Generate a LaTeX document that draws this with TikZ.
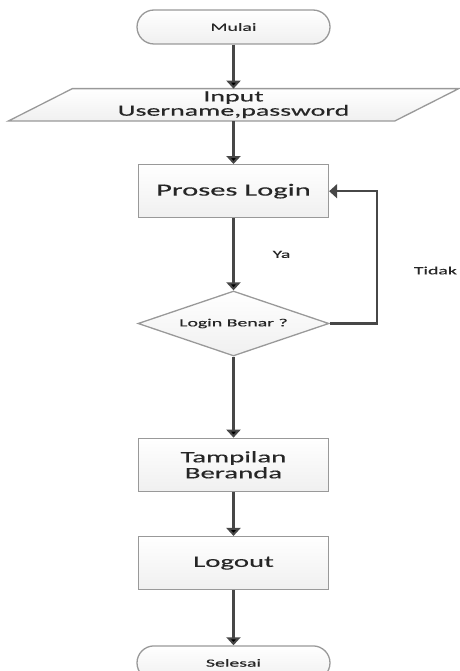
\documentclass[tikz,border=0pt]{standalone}
\usepackage{fontspec}
\setmainfont{Carlito}[FakeStretch=1.8,FakeBold=0.4]
\usepackage{tikz}
\usetikzlibrary{shapes.geometric,arrows.meta,calc,backgrounds}
\usetikzlibrary{positioning}

\begin{document}
\begin{tikzpicture}[x=1pt,y=1pt,
    box/.style={draw=gray!80,line width=1.3pt,top color=white,bottom color=gray!12,
      text=black!85,align=center,minimum width=190pt,minimum height=53pt,
      font=\fontsize{16}{16}\selectfont},
    term/.style={box,rounded corners=17pt,minimum width=193pt,minimum height=34pt,
      font=\fontsize{11}{11}\selectfont},
    decision/.style={box,diamond,aspect=2.94,minimum width=191pt,minimum height=65pt,
      inner sep=0pt,font=\fontsize{11}{11}\selectfont},
    lbl/.style={text=black!85,inner sep=0pt,font=\fontsize{11}{11}\selectfont},
    flow/.style={draw=black!72,line width=2.2pt,-{Triangle[width=14pt,length=8pt]}}]
 \useasboundingbox (0,0) rectangle (459,-671);
 \node[term] (mulai) at (233.5,-27) {Mulai};
 \node[below=44pt of mulai,minimum width=322pt,minimum height=32pt,inner sep=0pt,
   align=center,text=black!85,font=\fontsize{15.5}{13}\selectfont] (input)
  {Input\\Username,password};
 \begin{scope}[on background layer]
  \draw[draw=gray!80,line width=1.3pt,top color=white,bottom color=gray!12]
   ([xshift=-64pt]input.south west) -- (input.north west)
   -- ([xshift=64pt]input.north east) -- (input.south east) -- cycle;
 \end{scope}
 \node[box,below=43pt of input,font=\fontsize{17}{17}\selectfont] (proses) {Proses Login};
 \node[decision,below=72pt of proses] (cek) {Login Benar ?};
 \node[box,below=81pt of cek] (tampil) {Tampilan\\Beranda};
 \node[box,below=44pt of tampil] (logout) {Logout};
 \node[term,below=55pt of logout] (selesai) {Selesai};
 \coordinate[right=47pt of cek.east] (balik);
 \node[lbl] (ya) at ($(proses.south)!0.5!(cek.north)+(48,0)$) {Ya};
 \node[lbl,right=37pt of balik,yshift=53pt] (tidak) {Tidak};
 \path[flow] foreach \a/\b in {mulai/input,input/proses,proses/cek,cek/tampil,tampil/logout,logout/selesai}
  {(\a) edge (\b)};
 \draw[flow] (cek.east) -- (balik) |- (proses.east);
\end{tikzpicture}
\end{document}
